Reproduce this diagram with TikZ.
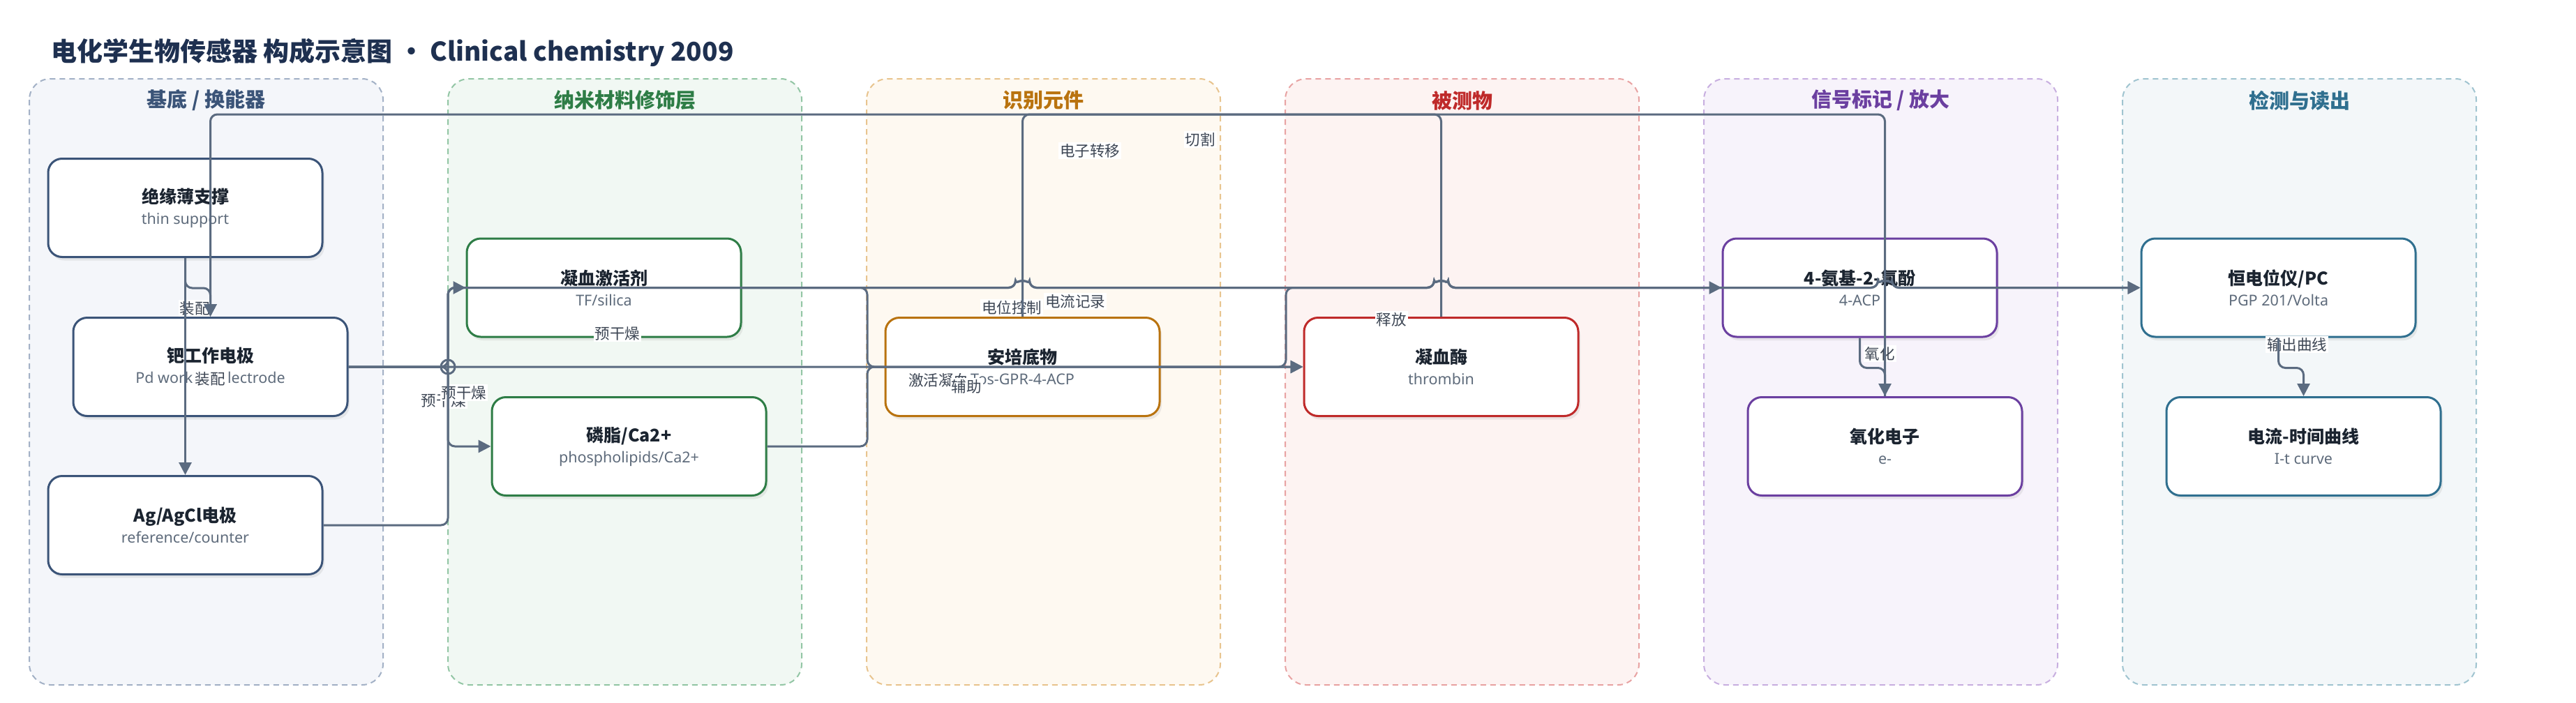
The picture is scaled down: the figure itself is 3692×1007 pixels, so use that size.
\documentclass[tikz,border=0pt]{standalone}
\usepackage{fontspec}
\setmainfont{Noto Sans CJK SC}
\newfontfamily\subfont{Noto Sans}
\usetikzlibrary{arrows.meta,shadows}

\definecolor{wirecol}{HTML}{5B6B80}
\definecolor{tagink}{HTML}{3D4654}
\definecolor{headink}{HTML}{1E3050}
\definecolor{partink}{HTML}{1B2430}
\definecolor{subink}{HTML}{5E6B7B}
\definecolor{baseFill}{HTML}{F4F6FA}\definecolor{baseEdge}{HTML}{A3B1C6}\definecolor{baseInk}{HTML}{3B5478}
\definecolor{nanoFill}{HTML}{F1F8F3}\definecolor{nanoEdge}{HTML}{93C6A5}\definecolor{nanoInk}{HTML}{2E7D46}
\definecolor{recoFill}{HTML}{FEF9F1}\definecolor{recoEdge}{HTML}{E8C48E}\definecolor{recoInk}{HTML}{B9730F}
\definecolor{anaFill}{HTML}{FDF3F2}\definecolor{anaEdge}{HTML}{E8A3A3}\definecolor{anaInk}{HTML}{BF2A2A}
\definecolor{sigFill}{HTML}{F7F3FB}\definecolor{sigEdge}{HTML}{C8AFE0}\definecolor{sigInk}{HTML}{6B3FA0}
\definecolor{detFill}{HTML}{F3F7F9}\definecolor{detEdge}{HTML}{A0C4D0}\definecolor{detInk}{HTML}{2F6F8F}

\newcommand{\stagetext}[2]{{\bfseries\fontsize{12.5}{14}\selectfont\color{partink}#1}\\[3pt]{\subfont\fontsize{10.75}{12}\selectfont\color{subink}#2}}

\begin{document}
\begin{tikzpicture}[x=0.5pt,y=-0.5pt]
  \tikzset{
    lane/.style={dash pattern=on 4pt off 3pt, line width=1pt, rounded corners=15pt},
    lanetitle/.style={font=\bfseries\fontsize{14.5}{16}\selectfont},
    part/.style={draw=#1, line width=1.5pt, fill=white, rounded corners=10pt,
      minimum width=196.5pt, minimum height=70.5pt, align=center,
      drop shadow={shadow xshift=1.5pt, shadow yshift=-2.5pt, opacity=0.14}},
    tag/.style={fill=white, inner sep=1pt, text=tagink, font=\fontsize{10.75}{12}\selectfont},
    wire/.style={draw=wirecol, line width=1.5pt, rounded corners=5pt},
    flow/.style={wire, -{Triangle[length=9pt,width=9pt]}}
  }

  \fill[white] (0,0) rectangle (3692,1007);

  \node[anchor=west, text=headink, font=\bfseries\fontsize{18.5}{20}\selectfont] (heading) at (66,75)
    {电化学生物传感器 构成示意图 · Clinical chemistry 2009};

  \foreach \i/\lname/\lfill/\ledge/\link in {0/{基底 / 换能器}/baseFill/baseEdge/baseInk,
      1/纳米材料修饰层/nanoFill/nanoEdge/nanoInk, 2/识别元件/recoFill/recoEdge/recoInk,
      3/被测物/anaFill/anaEdge/anaInk, 4/{信号标记 / 放大}/sigFill/sigEdge/sigInk,
      5/检测与读出/detFill/detEdge/detInk} {
    \draw[lane, fill=\lfill, draw=\ledge] (42+600*\i,113) rectangle (549+600*\i,982);
    \node[lanetitle, text=\link] (lane\i) at (295.5+600*\i,144) {\lname};
  }

  \node[part=baseInk] (support) at (265.5,298) {\stagetext{绝缘薄支撑}{thin support}};
  \node[part=baseInk] (pdwe) at (301.5,526) {\stagetext{钯工作电极}{Pd working electrode}};
  \node[part=baseInk] (agref) at (265.5,753) {\stagetext{Ag/AgCl电极}{reference/counter}};

  \node[part=nanoInk] (activator) at (865.5,412.5) {\stagetext{凝血激活剂}{TF/silica}};
  \node[part=nanoInk] (lipid) at (901.5,640) {\stagetext{磷脂/Ca2+}{phospholipids/Ca2+}};

  \node[part=recoInk] (substrate) at (1465.5,526) {\stagetext{安培底物}{Tos-GPR-4-ACP}};

  \node[part=anaInk] (thrombin) at (2065.5,526) {\stagetext{凝血酶}{thrombin}};

  \node[part=sigInk] (acp) at (2665.5,412.5) {\stagetext{4-氨基-2-氯酚}{4-ACP}};
  \node[part=sigInk] (electron) at (2701.5,640) {\stagetext{氧化电子}{e-}};

  \node[part=detInk] (pstat) at (3265.5,412.5) {\stagetext{恒电位仪/PC}{PGP 201/Volta}};
  \node[part=detInk] (curve) at (3301.5,640) {\stagetext{电流-时间曲线}{I-t curve}};

  % edge labels
  \node[tag] (tAssemble) at (279,442) {装配};
  \node[tag] (tAssemble2) at (301,543) {装配};
  \node[tag] (tDryA) at (636,574) {预干燥};
  \node[tag] (tDryB) at (665,563) {预干燥};
  \node[tag] (tDryC) at (885,478) {预干燥};
  \node[tag] (tActivate) at (1345,545) {激活凝血};
  \node[tag] (tAssist) at (1385,554) {辅助};
  \node[tag] (tPotential) at (1450,441) {电位控制};
  \node[tag] (tCurrent) at (1541,432) {电流记录};
  \node[tag] (tTransfer) at (1562,216) {电子转移};
  \node[tag] (tCleave) at (1720,200) {切割};
  \node[tag] (tRelease) at (1994,458) {释放};
  \node[tag] (tOxidise) at (2694,507) {氧化};
  \node[tag] (tOutput) at (3292,494) {输出曲线};

  \coordinate (busTop) at (0,164);
  \coordinate (jogA) at (642,0);
  \coordinate (jogB) at (1243,0);
  \coordinate (jogC) at (1843,0);
  \coordinate (hopA) at (substrate.north |- pstat.west);
  \coordinate (hopB) at (thrombin.north |- pstat.west);
  \coordinate (hopC) at (electron.north |- pstat.west);

  \draw[flow] (support.south) -- ++(0,43) -| (pdwe.north);
  \draw[flow] (support.south) -- (agref.north);
  \draw[flow] (pdwe.east) -- (pdwe.east -| jogA) |- (activator.west);
  \draw[flow] (pdwe.east) -- (pdwe.east -| jogA) |- (lipid.west);
  \draw[flow] (jogA |- pdwe.east) circle[radius=5pt] (pdwe.east) -- (substrate.west);
  \draw[flow] (activator.east) -- (activator.east -| jogB) |- (thrombin.west);
  \draw[flow] (lipid.east) -- (lipid.east -| jogB) |- (thrombin.west);
  \draw[flow] (agref.east) -- (agref.east -| jogA) -- (jogA |- pstat.west)
    -- ([xshift=-5pt]hopA) arc[start angle=180, end angle=0, radius=5pt]
    -- ([xshift=-5pt]hopB) arc[start angle=180, end angle=0, radius=5pt]
    -- ([xshift=-5pt]hopC) arc[start angle=180, end angle=0, radius=5pt]
    -- (pstat.west);
  \draw[flow] (pdwe.east) -- (pdwe.east -| jogA) -- (jogA |- pstat.west)
    -- ([xshift=-5pt]hopA) arc[start angle=180, end angle=0, radius=5pt]
    -- ([xshift=-5pt]hopB) arc[start angle=180, end angle=0, radius=5pt]
    -- ([xshift=-5pt]hopC) arc[start angle=180, end angle=0, radius=5pt]
    -- (pstat.west);
  \draw[flow] (substrate.east) -- (substrate.east -| jogC) -- (jogC |- acp.west)
    -- ([xshift=-5pt]hopB) arc[start angle=180, end angle=0, radius=5pt] -- (acp.west);
  \draw[wire] (thrombin.north) -- (thrombin.north |- busTop) -| (substrate.north);
  \draw[flow] (electron.north) -- (electron.north |- busTop) -| (pdwe.north);
  \draw[flow] (acp.south) -- ++(0,43) -| (electron.north);
  \draw[flow] (pstat.south) -- ++(0,43) -| (curve.north);
\end{tikzpicture}
\end{document}
